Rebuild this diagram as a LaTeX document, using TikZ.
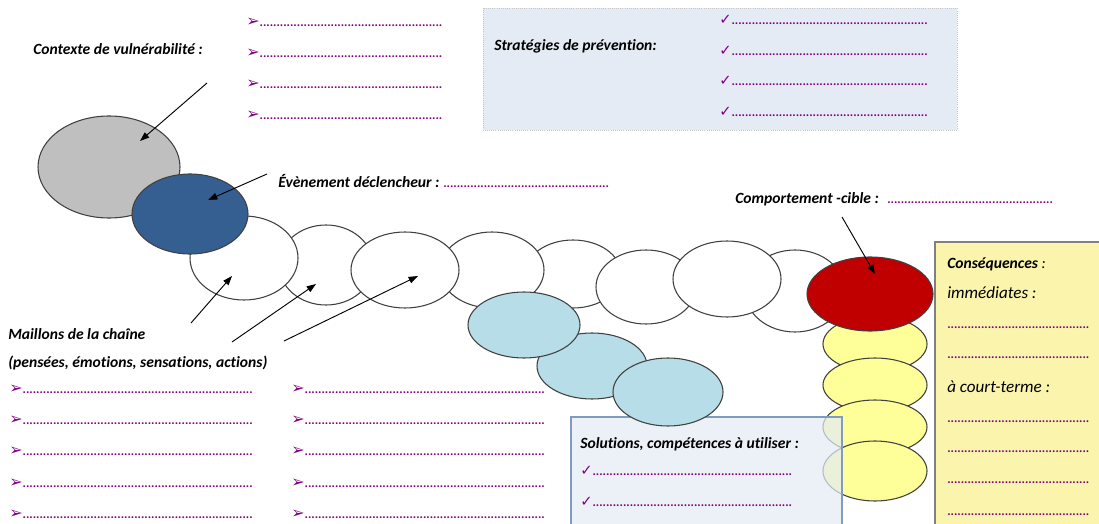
\documentclass[tikz,border=0pt]{standalone}
\usepackage{fontspec}
\setmainfont{Carlito}[Ligatures=NoCommon]
\newfontfamily\symbfont{DejaVu Sans}
\usetikzlibrary{shapes.geometric,arrows.meta}

\definecolor{violette}{RGB}{128,0,128}
\definecolor{gris}{RGB}{191,191,191}
\definecolor{bleufonce}{RGB}{54,95,145}
\definecolor{bleuclair}{RGB}{183,221,232}
\definecolor{rouge}{RGB}{192,0,0}
\definecolor{jaune}{RGB}{255,255,153}
\definecolor{jaunepale}{RGB}{250,244,172}
\definecolor{fondbleu}{RGB}{228,235,245}
\definecolor{bordbleu}{RGB}{127,156,192}

\newdimen\pxl \pxl=0.75pt
\newcommand\pointilles[1]{\textcolor{violette}{\fontsize{9.5}{9.5}\selectfont\bfseries\hbox to #1\pxl{\leaders\hbox{.}\hfill}}}
\newcommand\puce{\textcolor{violette}{\symbfont\fontsize{12}{12}\selectfont ➢}}
\newcommand\coche{\textcolor{violette}{\symbfont\fontsize{11}{11}\selectfont ✓}}

\tikzset{
  maillon/.style={ellipse, draw=black!75, line width=0.8pt, inner sep=0pt},
  taille/.style 2 args={minimum width=#1*1.5pt, minimum height=#2*1.5pt},
  fleche/.style={-{Triangle[length=7pt,width=5pt]}, line width=0.7pt},
  titre/.style={anchor=base west, inner sep=0pt, font=\fontsize{11.7}{13}\selectfont\bfseries\itshape},
  ligne/.style={anchor=base west, inner sep=0pt}
}

\begin{document}
\begin{tikzpicture}[x=0.75pt, y=-0.75pt]
  \useasboundingbox (0,0) rectangle (1099,524);

  % Stratégies de prévention
  \draw[fill=fondbleu, draw=gray!45, densely dotted, line width=0.6pt] (483,8) rectangle (957,130);
  \node[titre] (strat) at (494,51) {Stratégies de prévention:};
  \foreach \i/\y in {1/25,2/56,3/86,4/117}
    \node[ligne] (strat\i) at (719,\y) {\coche\pointilles{199}};

  % Contexte de vulnérabilité
  \node[titre] (ctx) at (33,55) {Contexte de vulnérabilité :};
  \foreach \i/\y in {1/27,2/58,3/89,4/120}
    \node[ligne] (ctx\i) at (246,\y) {\puce\pointilles{186}};

  % Maillons blancs
  \foreach \nom/\x/\y/\rx/\ry in {w2/326/265/47/40, w1/244/258/54/42, w5/573/274/48/34,
      w4/492/270/52/38, w3/405/270/54/38, w6/646/287/50/37, w8/795/291/50/41, w7/727/279/54/38}
    \node[maillon, fill=white, taille={\rx}{\ry}] (\nom) at (\x,\y) {};

  % Contexte et déclencheur
  \node[maillon, fill=gris, taille={71}{51}] (vuln) at (109,167) {};
  \node[maillon, fill=bleufonce, taille={58}{40}] (decl) at (190,214) {};

  % Solutions (bleu clair)
  \node[maillon, fill=bleuclair, taille={55}{33}] (sol2) at (592,366) {};
  \node[maillon, fill=bleuclair, taille={56}{33}] (sol1) at (524,325) {};

  % Conséquences (jaune)
  \foreach \i/\y/\ry in {1/344/28,2/385/27,3/427/27,4/471/30}
    \node[maillon, fill=jaune, taille={52}{\ry}] (csq\i) at (875,\y) {};
  \node[maillon, fill=rouge, taille={63}{37}] (cible) at (870,294) {};

  % Solutions, compétences
  \draw[fill=fondbleu, fill opacity=0.72, draw=bordbleu, line width=0.8pt] (571,417) rectangle (842,540);
  \node[maillon, fill=bleuclair, taille={55}{34}] (sol3) at (668,392) {};
  \node[titre] (solt) at (580,448) {Solutions, compétences à utiliser :};
  \foreach \i/\y in {1/475,2/506}
    \node[ligne] (sol\i l) at (580,\y) {\coche\pointilles{200}};

  % Conséquences
  \draw[fill=jaunepale, draw=gray, line width=0.8pt] (935,242) rectangle (1110,540);
  \node[ligne] (csqt) at (947,268) {\fontsize{11.7}{13}\selectfont\bfseries\itshape Conséquences\mdseries\ :};
  \node[ligne] (imm) at (947,298) {\fontsize{12.8}{14}\selectfont\itshape immédiates :};
  \node[ligne] (court) at (947,392) {\fontsize{12.8}{14}\selectfont\itshape à court-terme :};
  \foreach \i/\y in {1/328,2/358,3/422,4/452,5/483,6/515}
    \node[ligne] (csql\i) at (947,\y) {\pointilles{145}};

  % Textes de la chaîne
  \node[titre] (evt) at (278,188) {Évènement déclencheur :};
  \node[ligne] (evtp) at (443,188) {\pointilles{169}};
  \node[titre] (comp) at (735,204) {Comportement -cible :};
  \node[ligne] (compp) at (887,204) {\pointilles{168}};
  \node[titre] (chaine) at (8,339) {Maillons de la chaîne};
  \node[titre] (chaine2) at (8,367) {(pensées, émotions, sensations, actions)};
  \foreach \i/\y in {1/393,2/424,3/455,4/487,5/518} {
    \node[ligne] (ga\i) at (9,\y) {\puce\pointilles{233}};
    \node[ligne] (dr\i) at (291,\y) {\puce\pointilles{242}};
  }

  % Flèches
  \coordinate (qctx) at (207,83);  \coordinate (tctx) at (140,141);
  \coordinate (qevt) at (267,174); \coordinate (tevt) at (208,200);
  \coordinate (qm1) at (191,323);  \coordinate (tm1) at (232,276);
  \coordinate (qm2) at (232,342);  \coordinate (tm2) at (316,284);
  \coordinate (qm3) at (284,341);  \coordinate (tm3) at (418,276);
  \coordinate (qcib) at (842,217); \coordinate (tcib) at (875,274);
  \draw[fleche] (qctx) -- (tctx);
  \draw[fleche] (qevt) -- (tevt);
  \draw[fleche] (qm1) -- (tm1);
  \draw[fleche] (qm2) -- (tm2);
  \draw[fleche] (qm3) -- (tm3);
  \draw[fleche] (qcib) -- (tcib);
\end{tikzpicture}
\end{document}
